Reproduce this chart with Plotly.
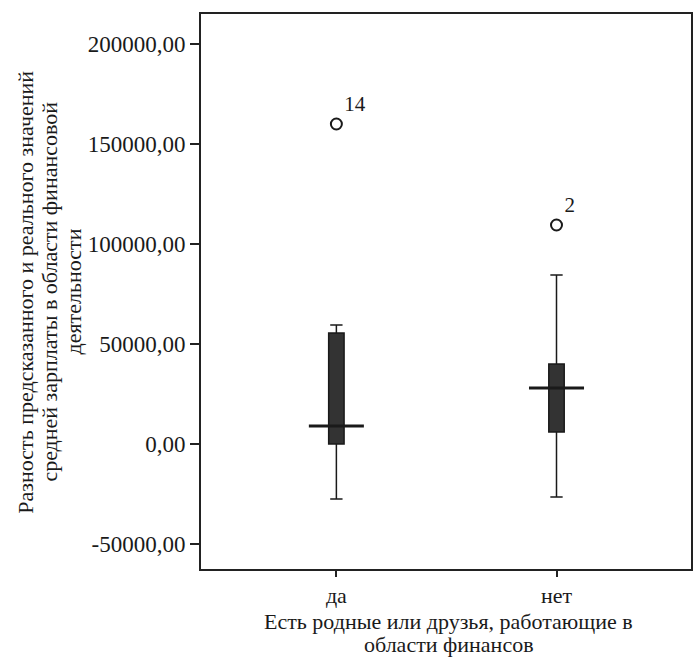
import plotly.graph_objects as go

categories = ["да", "нет"]
q1 = [0, 6000]
median = [9000, 28000]
q3 = [55500, 40000]
lower = [-27500, -26500]
upper = [59500, 84500]
outlier_values = [160000, 109500]
outlier_labels = ["14", "2"]
y_ticks = [-50000, 0, 50000, 100000, 150000, 200000]
y_ticklabels = ["-50000,00", "0,00", "50000,00", "100000,00", "150000,00", "200000,00"]
y_title_lines = ["Разность предсказанного и реального значений",
                 "средней зарплаты в области финансовой",
                 "деятельности"]
x_title_lines = ["Есть родные или друзья, работающие в", "области финансов"]

FONT = "Liberation Serif, Times New Roman, serif"
INK = "#1a1a1a"

L, R, T, B, W, H = 201, 2, 14, 88, 695, 657
PW, PH = W - L - R, H - T - B

def px_x(p):
    return (p - L) / PW

def px_y(p):
    return (H - B - p) / PH

fig = go.Figure()
xs = list(range(len(categories)))

for i in xs:
    fig.add_trace(go.Box(
        x=[i], q1=[q1[i]], median=[median[i]], q3=[q3[i]],
        lowerfence=[lower[i]], upperfence=[upper[i]],
        width=0.07, whiskerwidth=0.8,
        fillcolor="#333333", line=dict(color=INK, width=1.5),
        boxpoints=False, showlegend=False, hoverinfo="skip",
    ))
    fig.add_trace(go.Scatter(
        x=[i - 0.125, i + 0.125], y=[median[i], median[i]],
        mode="lines", line=dict(color=INK, width=3),
        showlegend=False, hoverinfo="skip",
    ))

fig.add_trace(go.Scatter(
    x=xs, y=outlier_values, mode="markers+text",
    marker=dict(symbol="circle-open", size=11, color=INK, line=dict(width=2)),
    text=outlier_labels, textposition="top right",
    textfont=dict(family=FONT, size=21, color=INK),
    showlegend=False, hoverinfo="skip",
))

annotations = []
for line, xp in zip(y_title_lines, [24, 48, 72]):
    annotations.append(dict(
        text=line, xref="paper", yref="paper", x=px_x(xp), y=px_y(292),
        xanchor="center", yanchor="middle", textangle=-90,
        showarrow=False, font=dict(family=FONT, size=22, color=INK),
    ))
for line, yp in zip(x_title_lines, [621, 644]):
    annotations.append(dict(
        text=line, xref="paper", yref="paper", x=px_x(450), y=px_y(yp),
        xanchor="center", yanchor="middle",
        showarrow=False, font=dict(family=FONT, size=22, color=INK),
    ))

fig.update_layout(
    width=W, height=H,
    margin=dict(l=L, r=R, t=T, b=B),
    paper_bgcolor="white", plot_bgcolor="white",
    font=dict(family=FONT, size=22, color=INK),
    showlegend=False,
    xaxis=dict(
        range=[-0.615, 1.611], tickvals=xs, ticktext=categories,
        showgrid=False, zeroline=False, showline=True, mirror=True,
        linecolor="#222", linewidth=2, ticks="outside", ticklen=6,
        tickcolor="#222", tickwidth=1.5,
        tickfont=dict(family=FONT, size=22, color=INK),
    ),
    yaxis=dict(
        range=[-62500, 215000], tickvals=y_ticks, ticktext=y_ticklabels,
        showgrid=False, zeroline=False, showline=True, mirror=True,
        linecolor="#222", linewidth=2, ticks="outside", ticklen=9,
        tickcolor="#222", tickwidth=1.5,
        tickfont=dict(family=FONT, size=23, color=INK),
    ),
    annotations=annotations,
)

fig.write_html("out.html")
